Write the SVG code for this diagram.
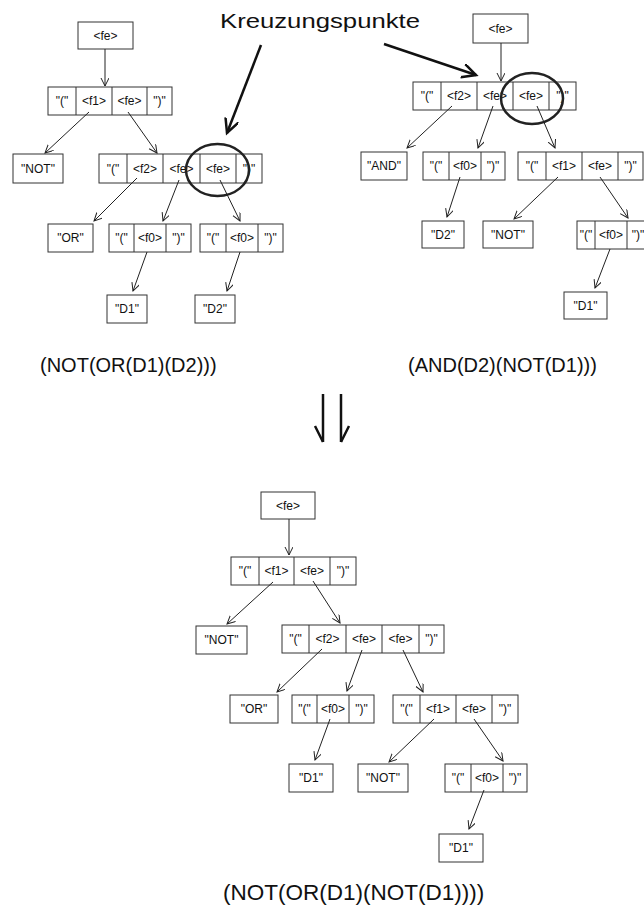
<svg xmlns="http://www.w3.org/2000/svg" width="644" height="908" viewBox="0 0 644 908">
<defs>
<marker id="ah" markerUnits="userSpaceOnUse" markerWidth="10" markerHeight="10" refX="8" refY="4" orient="auto">
<path d="M0,0 L8,4 L0,8" fill="none" stroke="#222" stroke-width="1"/>
</marker>
<marker id="ahT" markerUnits="userSpaceOnUse" markerWidth="18" markerHeight="18" refX="14" refY="7" orient="auto">
<path d="M0,0 L14,7 L0,14" fill="none" stroke="#111" stroke-width="2.5"/>
</marker>
</defs>
<style>
rect{fill:#fff;stroke:#333;stroke-width:1}
.d{stroke:#333;stroke-width:1}
text{font-family:"Liberation Sans",Arial,sans-serif;fill:#111}
.c{font-size:12px;text-anchor:middle}
.e{font-size:20px}
.conn line{stroke:#222;stroke-width:1;marker-end:url(#ah)}
.thick line{stroke:#111;stroke-width:2.5;marker-end:url(#ahT)}
ellipse{fill:none;stroke:#222;stroke-width:2.5}
</style>
<rect width="644" height="908" style="fill:#fff;stroke:none"/>

<!-- Left tree -->
<g id="L_fe"><rect x="78" y="22" width="55" height="27"/><text class="c" x="105.5" y="40">&lt;fe&gt;</text></g>
<g id="L_r1"><rect x="48" y="87" width="124" height="28"/><line class="d" x1="76" y1="87" x2="76" y2="115"/><line class="d" x1="112" y1="87" x2="112" y2="115"/><line class="d" x1="147" y1="87" x2="147" y2="115"/>
<text class="c" x="62" y="105">"("</text><text class="c" x="94" y="105">&lt;f1&gt;</text><text class="c" x="129.5" y="105">&lt;fe&gt;</text><text class="c" x="159.5" y="105">")"</text></g>
<g id="L_not"><rect x="13" y="154" width="50" height="29"/><text class="c" x="38" y="173">"NOT"</text></g>
<g id="L_r2"><rect x="99" y="154" width="163" height="29"/><line class="d" x1="127" y1="154" x2="127" y2="183"/><line class="d" x1="163" y1="154" x2="163" y2="183"/><line class="d" x1="200" y1="154" x2="200" y2="183"/><line class="d" x1="236" y1="154" x2="236" y2="183"/>
<text class="c" x="113" y="173">"("</text><text class="c" x="145" y="173">&lt;f2&gt;</text><text class="c" x="181.5" y="173">&lt;fe&gt;</text><text class="c" x="218" y="173">&lt;fe&gt;</text><text class="c" x="249" y="173">")"</text></g>
<g id="L_or"><rect x="48" y="224" width="45" height="28"/><text class="c" x="70.5" y="242">"OR"</text></g>
<g id="L_r3a"><rect x="109" y="224" width="82" height="28"/><line class="d" x1="134" y1="224" x2="134" y2="252"/><line class="d" x1="166" y1="224" x2="166" y2="252"/>
<text class="c" x="121.5" y="242">"("</text><text class="c" x="150" y="242">&lt;f0&gt;</text><text class="c" x="178.5" y="242">")"</text></g>
<g id="L_r3b"><rect x="200" y="224" width="83" height="28"/><line class="d" x1="226" y1="224" x2="226" y2="252"/><line class="d" x1="258" y1="224" x2="258" y2="252"/>
<text class="c" x="213" y="242">"("</text><text class="c" x="242" y="242">&lt;f0&gt;</text><text class="c" x="270.5" y="242">")"</text></g>
<g id="L_d1"><rect x="107" y="295" width="40" height="28"/><text class="c" x="127" y="313">"D1"</text></g>
<g id="L_d2"><rect x="195" y="295" width="40" height="28"/><text class="c" x="215" y="313">"D2"</text></g>

<!-- Right tree -->
<g id="R_fe"><rect x="473" y="14" width="55" height="29"/><text class="c" x="500.5" y="33">&lt;fe&gt;</text></g>
<g id="R_r1"><rect x="413" y="82" width="163" height="28"/><line class="d" x1="441" y1="82" x2="441" y2="110"/><line class="d" x1="477" y1="82" x2="477" y2="110"/><line class="d" x1="513" y1="82" x2="513" y2="110"/><line class="d" x1="549" y1="82" x2="549" y2="110"/>
<text class="c" x="427" y="100">"("</text><text class="c" x="459" y="100">&lt;f2&gt;</text><text class="c" x="495" y="100">&lt;fe&gt;</text><text class="c" x="531" y="100">&lt;fe&gt;</text><text class="c" x="562.5" y="100">")"</text></g>
<g id="R_and"><rect x="361" y="152" width="46" height="28"/><text class="c" x="384" y="170">"AND"</text></g>
<g id="R_r2a"><rect x="423" y="152" width="82" height="28"/><line class="d" x1="449" y1="152" x2="449" y2="180"/><line class="d" x1="481" y1="152" x2="481" y2="180"/>
<text class="c" x="436" y="170">"("</text><text class="c" x="465" y="170">&lt;f0&gt;</text><text class="c" x="493" y="170">")"</text></g>
<g id="R_r2b"><rect x="518" y="152" width="125" height="28"/><line class="d" x1="546" y1="152" x2="546" y2="180"/><line class="d" x1="582" y1="152" x2="582" y2="180"/><line class="d" x1="618" y1="152" x2="618" y2="180"/>
<text class="c" x="532" y="170">"("</text><text class="c" x="564" y="170">&lt;f1&gt;</text><text class="c" x="600" y="170">&lt;fe&gt;</text><text class="c" x="630.5" y="170">")"</text></g>
<g id="R_d2"><rect x="422" y="221" width="42" height="27"/><text class="c" x="443" y="239">"D2"</text></g>
<g id="R_not"><rect x="483" y="221" width="50" height="27"/><text class="c" x="508" y="239">"NOT"</text></g>
<g id="R_r3"><rect x="577" y="221" width="82" height="28"/><line class="d" x1="595" y1="221" x2="595" y2="249"/><line class="d" x1="627" y1="221" x2="627" y2="249"/>
<text class="c" x="586" y="239">"("</text><text class="c" x="611" y="239">&lt;f0&gt;</text><text class="c" x="638" y="239">")"</text></g>
<g id="R_d1"><rect x="564" y="292" width="43" height="27"/><text class="c" x="585.5" y="310">"D1"</text></g>

<!-- Bottom tree -->
<g id="B_fe"><rect x="261" y="492" width="54" height="27"/><text class="c" x="288" y="510">&lt;fe&gt;</text></g>
<g id="B_r1"><rect x="231" y="557" width="125" height="28"/><line class="d" x1="259" y1="557" x2="259" y2="585"/><line class="d" x1="294" y1="557" x2="294" y2="585"/><line class="d" x1="330" y1="557" x2="330" y2="585"/>
<text class="c" x="245" y="575">"("</text><text class="c" x="276.5" y="575">&lt;f1&gt;</text><text class="c" x="312" y="575">&lt;fe&gt;</text><text class="c" x="343" y="575">")"</text></g>
<g id="B_not"><rect x="196" y="626" width="51" height="28"/><text class="c" x="221.5" y="644">"NOT"</text></g>
<g id="B_r2"><rect x="282" y="625" width="162" height="28"/><line class="d" x1="309" y1="625" x2="309" y2="653"/><line class="d" x1="346" y1="625" x2="346" y2="653"/><line class="d" x1="382" y1="625" x2="382" y2="653"/><line class="d" x1="419" y1="625" x2="419" y2="653"/>
<text class="c" x="295.5" y="643">"("</text><text class="c" x="327.5" y="643">&lt;f2&gt;</text><text class="c" x="364" y="643">&lt;fe&gt;</text><text class="c" x="400.5" y="643">&lt;fe&gt;</text><text class="c" x="431.5" y="643">")"</text></g>
<g id="B_or"><rect x="230" y="695" width="48" height="28"/><text class="c" x="254" y="713">"OR"</text></g>
<g id="B_r3a"><rect x="292" y="695" width="82" height="28"/><line class="d" x1="317" y1="695" x2="317" y2="723"/><line class="d" x1="349" y1="695" x2="349" y2="723"/>
<text class="c" x="304.5" y="713">"("</text><text class="c" x="333" y="713">&lt;f0&gt;</text><text class="c" x="361.5" y="713">")"</text></g>
<g id="B_r3b"><rect x="393" y="695" width="125" height="28"/><line class="d" x1="420" y1="695" x2="420" y2="723"/><line class="d" x1="456" y1="695" x2="456" y2="723"/><line class="d" x1="492" y1="695" x2="492" y2="723"/>
<text class="c" x="406.5" y="713">"("</text><text class="c" x="438" y="713">&lt;f1&gt;</text><text class="c" x="474" y="713">&lt;fe&gt;</text><text class="c" x="505" y="713">")"</text></g>
<g id="B_d1"><rect x="289" y="764" width="44" height="28"/><text class="c" x="311" y="782">"D1"</text></g>
<g id="B_not2"><rect x="358" y="764" width="50" height="28"/><text class="c" x="383" y="782">"NOT"</text></g>
<g id="B_r4"><rect x="445" y="764" width="82" height="28"/><line class="d" x1="471" y1="764" x2="471" y2="792"/><line class="d" x1="503" y1="764" x2="503" y2="792"/>
<text class="c" x="458" y="782">"("</text><text class="c" x="487" y="782">&lt;f0&gt;</text><text class="c" x="515" y="782">")"</text></g>
<g id="B_d1b"><rect x="439" y="834" width="44" height="28"/><text class="c" x="461" y="852">"D1"</text></g>

<!-- Connectors -->
<g id="connectors" class="conn">
<line x1="105" y1="49" x2="105" y2="86"/>
<line x1="89" y1="112" x2="45" y2="153"/>
<line x1="128" y1="112" x2="157" y2="153"/>
<line x1="137" y1="178" x2="94" y2="221"/>
<line x1="179" y1="180" x2="163" y2="221"/>
<line x1="220" y1="180" x2="240" y2="221"/>
<line x1="147" y1="252" x2="133" y2="291"/>
<line x1="240" y1="252" x2="227" y2="291"/>

<line x1="501" y1="43" x2="501" y2="81"/>
<line x1="452" y1="106" x2="407" y2="148"/>
<line x1="493" y1="106" x2="478" y2="148"/>
<line x1="537" y1="106" x2="555" y2="148"/>
<line x1="558" y1="177" x2="514" y2="219"/>
<line x1="600" y1="177" x2="628" y2="218"/>
<line x1="460" y1="177" x2="447" y2="217"/>
<line x1="610" y1="249" x2="595" y2="288"/>

<line x1="289" y1="519" x2="289" y2="555"/>
<line x1="273" y1="582" x2="227" y2="624"/>
<line x1="313" y1="581" x2="340" y2="623"/>
<line x1="322" y1="649" x2="277" y2="692"/>
<line x1="362" y1="650" x2="347" y2="691"/>
<line x1="403" y1="650" x2="423" y2="692"/>
<line x1="434" y1="719" x2="389" y2="762"/>
<line x1="474" y1="719" x2="503" y2="761"/>
<line x1="330" y1="719" x2="315" y2="760"/>
<line x1="484" y1="790" x2="469" y2="829"/>
</g>
<g id="markers" class="thick">
<line x1="261" y1="45" x2="227" y2="133"/>
<line x1="384" y1="44" x2="476" y2="75"/>
</g>
<ellipse cx="217.5" cy="170" rx="31.5" ry="26"/>
<ellipse cx="532" cy="98.5" rx="31" ry="25.5"/>

<text class="e" x="220" y="28" style="font-size:21px" textLength="200" lengthAdjust="spacingAndGlyphs">Kreuzungspunkte</text>
<text class="e" x="40" y="372">(NOT(OR(D1)(D2)))</text>
<text class="e" x="408" y="372">(AND(D2)(NOT(D1)))</text>
<text class="e" x="223" y="900" style="font-size:22.5px">(NOT(OR(D1)(NOT(D1))))</text>

<g id="bigarrow" fill="none" stroke="#111" stroke-width="2.5">
<line x1="323" y1="394" x2="323" y2="442"/>
<line x1="341" y1="394" x2="341" y2="442"/>
<path d="M315,426 L323,442 M349,426 L341,442"/>
</g>
</svg>
